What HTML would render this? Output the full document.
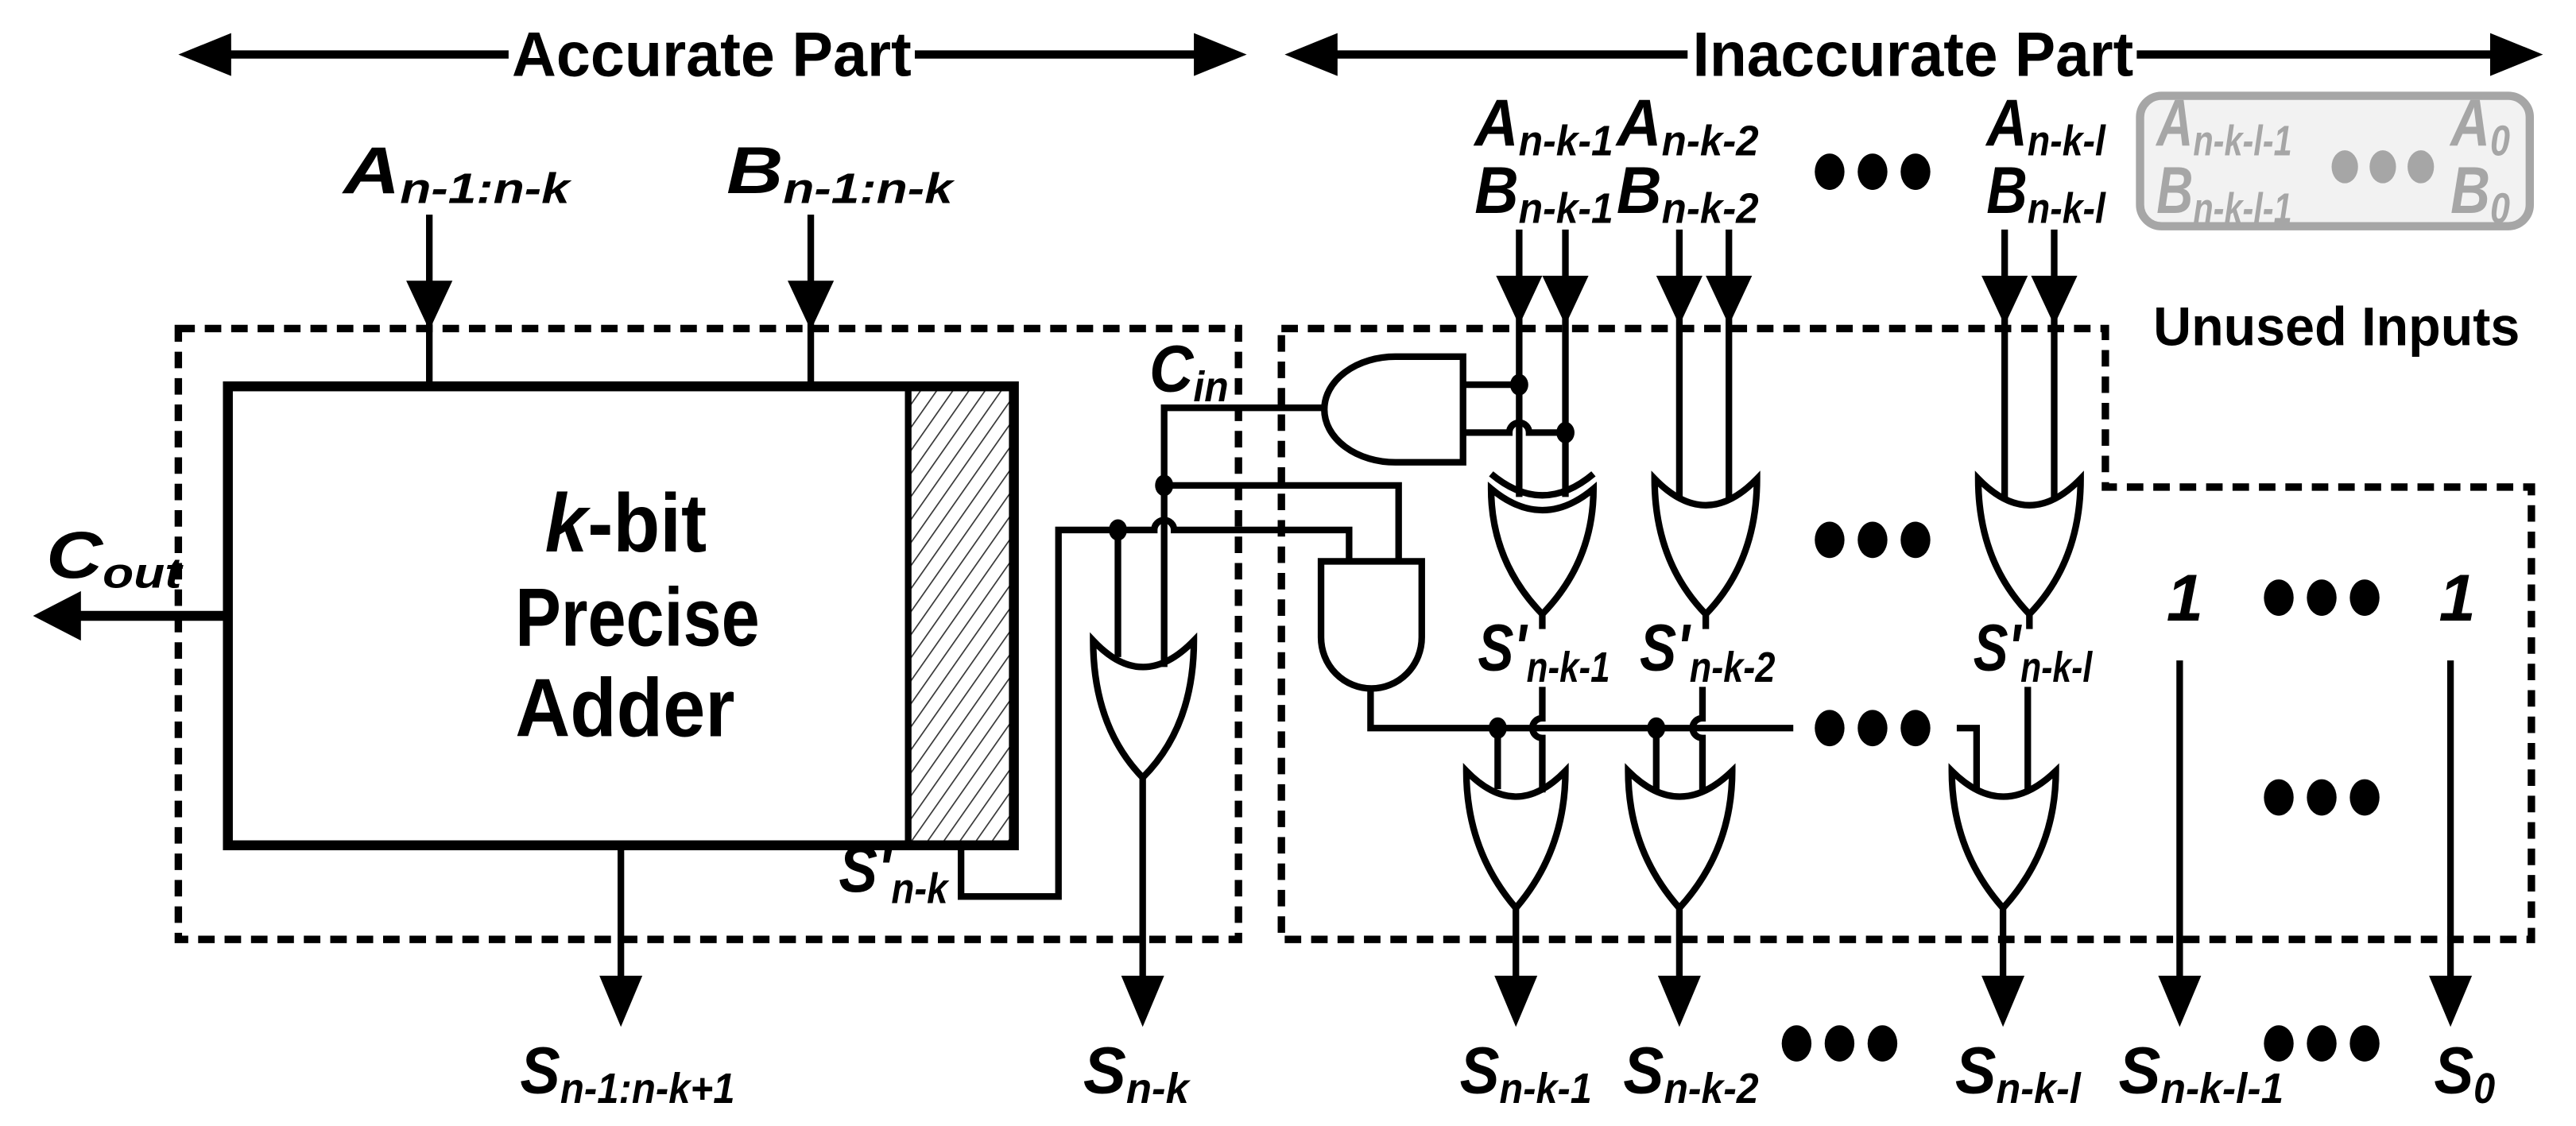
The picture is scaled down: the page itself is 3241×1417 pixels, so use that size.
<!DOCTYPE html>
<html><head><meta charset="utf-8"><style>
html,body{margin:0;padding:0;background:#fff;}
svg{display:block;}
text{font-family:"Liberation Sans",sans-serif;font-weight:bold;}
.l{font-style:italic;font-size:40px;}
.s{font-size:26px;}
.g{fill:#a6a6a6;}
</style></head><body>
<svg width="3241" height="1417" viewBox="0 0 1560 682" xmlns="http://www.w3.org/2000/svg">
<rect width="1560" height="682" fill="#fff"/>
<defs>
<pattern id="h" width="8" height="8" patternUnits="userSpaceOnUse" patternTransform="rotate(35)">
<line x1="0" y1="0" x2="0" y2="8" stroke="#333" stroke-width="1.6"/>
</pattern>
</defs>
<!-- header -->
<g stroke="#000" stroke-width="5" fill="none">
<line x1="130" y1="33" x2="308" y2="33"/><line x1="554" y1="33" x2="735" y2="33"/>
<line x1="800" y1="33" x2="1022" y2="33"/><line x1="1294" y1="33" x2="1520" y2="33"/>
</g>
<polygon points="108,33 140,20 140,46"/><polygon points="755,33 723,20 723,46"/>
<polygon points="778,33 810,20 810,46"/><polygon points="1540,33 1508,20 1508,46"/>
<text x="310" y="46" font-size="38" textLength="242" lengthAdjust="spacingAndGlyphs">Accurate Part</text>
<text x="1025" y="46" font-size="38" textLength="267" lengthAdjust="spacingAndGlyphs">Inaccurate Part</text>

<!-- dashed boxes -->
<g stroke="#000" stroke-width="4.5" fill="none" stroke-dasharray="10,6">
<rect x="108" y="199" width="642" height="370"/>
<path d="M776,199 L1275,199 L1275,295 L1533,295 L1533,569 L776,569 Z"/>
</g>

<!-- main adder -->
<rect x="550" y="234" width="64" height="278" fill="url(#h)"/>
<rect x="138" y="234" width="476" height="278" fill="none" stroke="#000" stroke-width="6"/>
<line x1="550" y1="234" x2="550" y2="512" stroke="#000" stroke-width="4"/>
<text x="330" y="334" font-size="50" textLength="98" lengthAdjust="spacingAndGlyphs"><tspan font-style="italic">k</tspan>-bit</text>
<text x="312" y="391" font-size="50" textLength="148" lengthAdjust="spacingAndGlyphs">Precise</text>
<text x="312" y="446" font-size="50" textLength="133" lengthAdjust="spacingAndGlyphs">Adder</text>

<g stroke="#000" stroke-width="4" fill="none">
<line x1="260" y1="130" x2="260" y2="234"/><line x1="491" y1="130" x2="491" y2="234"/>
<line x1="138" y1="373" x2="45" y2="373" stroke-width="6"/>
<line x1="376" y1="512" x2="376" y2="595"/>
<line x1="692" y1="471" x2="692" y2="595"/>
<path d="M582,512 L582,543 L641,543 L641,321 L699,321 A6,6 0 0 1 711,321 L817,321 L817,340"/>
<path d="M802,247 L705,247 L705,404"/>
<path d="M705,294 L847,294 L847,340"/>
<line x1="677" y1="321" x2="677" y2="398"/>
<path d="M886,216 L845,216 A43,32 0 0 0 845,280 L886,280 Z"/>
<path d="M886,233 L920,233"/>
<path d="M886,262 L914,262 A6,6 0 0 1 926,262 L948,262"/>
<path d="M800,340 L861,340 L861,386 A30.5,31 0 0 1 800,386 Z"/>
<path d="M830,417 L830,441 L1086,441"/>
<path d="M1185,441 L1197,441 L1197,478"/>
<line x1="920" y1="139" x2="920" y2="301"/><line x1="948" y1="139" x2="948" y2="301"/>
<line x1="1017" y1="139" x2="1017" y2="303"/><line x1="1047" y1="139" x2="1047" y2="303"/>
<line x1="1214" y1="139" x2="1214" y2="303"/><line x1="1244" y1="139" x2="1244" y2="303"/>
<path d="M662,388 Q692,420 723,388 Q723,440 692,471 Q662,440 662,388 Z"/>
<path d="M903,296 Q934,322 965,296 Q965,340 934,372 Q903,340 903,296 Z"/>
<path d="M903,287 Q934,313 965,287"/>
<path d="M1002,290 Q1033,322 1064,290 Q1064,340 1033,372 Q1002,340 1002,290 Z"/>
<path d="M1198,290 Q1229,322 1260,290 Q1260,340 1229,372 Q1198,340 1198,290 Z"/>
<line x1="934" y1="372" x2="934" y2="381"/><line x1="1033" y1="372" x2="1033" y2="381"/><line x1="1229" y1="372" x2="1229" y2="381"/>
<path d="M934,416 L934,435 A6,6 0 0 0 934,447 L934,480"/>
<path d="M1031,416 L1031,435 A6,6 0 0 0 1031,447 L1031,480"/>
<line x1="1228" y1="416" x2="1228" y2="480"/>
<line x1="907" y1="441" x2="907" y2="478"/><line x1="1003" y1="441" x2="1003" y2="478"/>
<path d="M888,467 Q918,498 948,467 Q948,515 918,550 Q888,515 888,467 Z"/>
<path d="M986,467 Q1017,498 1049,467 Q1049,515 1017,550 Q986,515 986,467 Z"/>
<path d="M1182,467 Q1213,498 1245,467 Q1245,515 1213,550 Q1182,515 1182,467 Z"/>
<line x1="918" y1="550" x2="918" y2="595"/><line x1="1017" y1="550" x2="1017" y2="595"/><line x1="1213" y1="550" x2="1213" y2="595"/>
<line x1="1320" y1="400" x2="1320" y2="595"/><line x1="1484" y1="400" x2="1484" y2="595"/>
</g>
<g fill="#000">
<polygon points="246,170 274,170 260,200"/><polygon points="477,170 505,170 491,200"/>
<polygon points="906,167 934,167 920,197"/><polygon points="934,167 962,167 948,197"/>
<polygon points="1003,167 1031,167 1017,197"/><polygon points="1033,167 1061,167 1047,197"/>
<polygon points="1200,167 1228,167 1214,197"/><polygon points="1230,167 1258,167 1244,197"/>
<polygon points="20,373 49,358 49,388"/>
<polygon points="363,591 389,591 376,622"/><polygon points="679,591 705,591 692,622"/>
<polygon points="905,591 931,591 918,622"/><polygon points="1004,591 1030,591 1017,622"/>
<polygon points="1200,591 1226,591 1213,622"/><polygon points="1307,591 1333,591 1320,622"/>
<polygon points="1471,591 1497,591 1484,622"/>
<ellipse cx="705" cy="294" rx="5.5" ry="6.5"/><ellipse cx="677" cy="321" rx="5.5" ry="6.5"/>
<ellipse cx="920" cy="233" rx="5.5" ry="6.5"/><ellipse cx="948" cy="262" rx="5.5" ry="6.5"/>
<ellipse cx="907" cy="441" rx="5.5" ry="6.5"/><ellipse cx="1003" cy="441" rx="5.5" ry="6.5"/>
<ellipse cx="1108" cy="104" rx="9" ry="11"/><ellipse cx="1134" cy="104" rx="9" ry="11"/><ellipse cx="1160" cy="104" rx="9" ry="11"/>
<ellipse cx="1108" cy="327" rx="9" ry="11"/><ellipse cx="1134" cy="327" rx="9" ry="11"/><ellipse cx="1160" cy="327" rx="9" ry="11"/>
<ellipse cx="1108" cy="441" rx="9" ry="11"/><ellipse cx="1134" cy="441" rx="9" ry="11"/><ellipse cx="1160" cy="441" rx="9" ry="11"/>
<ellipse cx="1380" cy="362" rx="9" ry="11"/><ellipse cx="1406" cy="362" rx="9" ry="11"/><ellipse cx="1432" cy="362" rx="9" ry="11"/>
<ellipse cx="1380" cy="483" rx="9" ry="11"/><ellipse cx="1406" cy="483" rx="9" ry="11"/><ellipse cx="1432" cy="483" rx="9" ry="11"/>
<ellipse cx="1088" cy="632" rx="9" ry="11"/><ellipse cx="1114" cy="632" rx="9" ry="11"/><ellipse cx="1140" cy="632" rx="9" ry="11"/>
<ellipse cx="1380" cy="632" rx="9" ry="11"/><ellipse cx="1406" cy="632" rx="9" ry="11"/><ellipse cx="1432" cy="632" rx="9" ry="11"/>
</g>

<rect x="1296" y="58" width="236" height="79" rx="13" fill="#f2f2f2" stroke="#a6a6a6" stroke-width="5"/>
<g fill="#a6a6a6">
<ellipse cx="1420" cy="101" rx="8" ry="10"/><ellipse cx="1443" cy="101" rx="8" ry="10"/><ellipse cx="1466" cy="101" rx="8" ry="10"/>
</g>
<text class="l g" x="1306" y="88" textLength="82" lengthAdjust="spacingAndGlyphs">A<tspan class="s" dy="6">n-k-l-1</tspan></text>
<text class="l g" x="1306" y="129" textLength="82" lengthAdjust="spacingAndGlyphs">B<tspan class="s" dy="6">n-k-l-1</tspan></text>
<text class="l g" x="1484" y="88" textLength="36" lengthAdjust="spacingAndGlyphs">A<tspan class="s" dy="6">0</tspan></text>
<text class="l g" x="1484" y="129" textLength="36" lengthAdjust="spacingAndGlyphs">B<tspan class="s" dy="6">0</tspan></text>
<text x="1304" y="209" font-size="33" textLength="222" lengthAdjust="spacingAndGlyphs">Unused Inputs</text>

<text class="l" x="208" y="117" textLength="137" lengthAdjust="spacingAndGlyphs">A<tspan class="s" dy="6">n-1:n-k</tspan></text>
<text class="l" x="440" y="117" textLength="137" lengthAdjust="spacingAndGlyphs">B<tspan class="s" dy="6">n-1:n-k</tspan></text>
<text class="l" x="893" y="88" textLength="84" lengthAdjust="spacingAndGlyphs">A<tspan class="s" dy="6">n-k-1</tspan></text>
<text class="l" x="979" y="88" textLength="86" lengthAdjust="spacingAndGlyphs">A<tspan class="s" dy="6">n-k-2</tspan></text>
<text class="l" x="1203" y="88" textLength="72" lengthAdjust="spacingAndGlyphs">A<tspan class="s" dy="6">n-k-l</tspan></text>
<text class="l" x="893" y="129" textLength="84" lengthAdjust="spacingAndGlyphs">B<tspan class="s" dy="6">n-k-1</tspan></text>
<text class="l" x="979" y="129" textLength="86" lengthAdjust="spacingAndGlyphs">B<tspan class="s" dy="6">n-k-2</tspan></text>
<text class="l" x="1203" y="129" textLength="72" lengthAdjust="spacingAndGlyphs">B<tspan class="s" dy="6">n-k-l</tspan></text>
<text class="l" x="696" y="237" textLength="48" lengthAdjust="spacingAndGlyphs">C<tspan class="s" dy="6">in</tspan></text>
<text class="l" x="28" y="350" textLength="82" lengthAdjust="spacingAndGlyphs">C<tspan class="s" dy="6">out</tspan></text>
<text class="l" x="508" y="540" font-size="34" textLength="66" lengthAdjust="spacingAndGlyphs">S'<tspan class="s" dy="7">n-k</tspan></text>
<text class="l" x="895" y="406" font-size="34" textLength="80" lengthAdjust="spacingAndGlyphs">S'<tspan class="s" dy="7">n-k-1</tspan></text>
<text class="l" x="993" y="406" font-size="34" textLength="82" lengthAdjust="spacingAndGlyphs">S'<tspan class="s" dy="7">n-k-2</tspan></text>
<text class="l" x="1195" y="406" font-size="34" textLength="72" lengthAdjust="spacingAndGlyphs">S'<tspan class="s" dy="7">n-k-l</tspan></text>
<text class="l" x="1312" y="376">1</text>
<text class="l" x="1477" y="376">1</text>
<text class="l" x="315" y="662" textLength="130" lengthAdjust="spacingAndGlyphs">S<tspan class="s" dy="6">n-1:n-k+1</tspan></text>
<text class="l" x="656" y="662" textLength="64" lengthAdjust="spacingAndGlyphs">S<tspan class="s" dy="6">n-k</tspan></text>
<text class="l" x="884" y="662" textLength="80" lengthAdjust="spacingAndGlyphs">S<tspan class="s" dy="6">n-k-1</tspan></text>
<text class="l" x="983" y="662" textLength="82" lengthAdjust="spacingAndGlyphs">S<tspan class="s" dy="6">n-k-2</tspan></text>
<text class="l" x="1184" y="662" textLength="76" lengthAdjust="spacingAndGlyphs">S<tspan class="s" dy="6">n-k-l</tspan></text>
<text class="l" x="1283" y="662" textLength="100" lengthAdjust="spacingAndGlyphs">S<tspan class="s" dy="6">n-k-l-1</tspan></text>
<text class="l" x="1474" y="662" textLength="37" lengthAdjust="spacingAndGlyphs">S<tspan class="s" dy="6">0</tspan></text>
</svg>
</body></html>
